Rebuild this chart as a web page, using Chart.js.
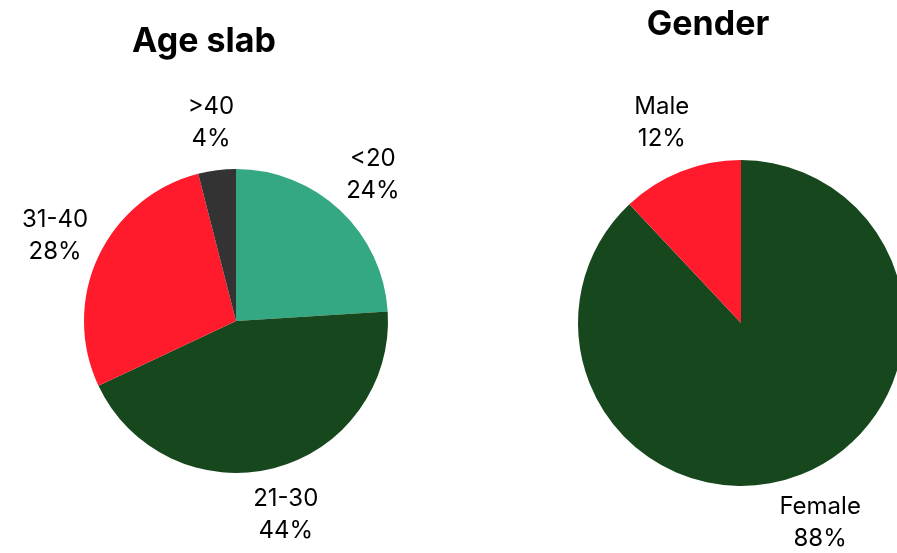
<!DOCTYPE html>
<html>
<head>
<meta charset="utf-8">
<script src="https://cdn.jsdelivr.net/npm/chart.js@4.4.1/dist/chart.umd.min.js"></script>
<style>
  html, body { margin: 0; padding: 0; background: #fff; overflow: hidden; width: 897px; height: 553px; }
  .box { position: absolute; top: 0; height: 553px; }
  #ageBox { left: 0; width: 472px; }
  #genderBox { left: 472px; width: 600px; }
</style>
</head>
<body>
<div class="box" id="ageBox"><canvas id="ageChart" width="472" height="553"></canvas></div>
<div class="box" id="genderBox"><canvas id="genderChart" width="600" height="553"></canvas></div>
<script>
// Age slab
const ageLabels = ['<20', '21-30', '31-40', '>40'];
const ageValues = [24, 44, 28, 4];
const ageColors = ['#34A783', '#17471D', '#FF1A2C', '#333333'];

// Gender
const genderLabels = ['Female', 'Male'];
const genderValues = [88, 12];
const genderColors = ['#17471D', '#FF1A2C'];

const FONT = 'Inter, "Open Sans", sans-serif';

// draws "label\nvalue%" outside each slice, plus the chart title
const outsideLabels = {
    id: 'outsideLabels',
    afterDraw(chart, args, opts) {
        const ctx = chart.ctx;
        const meta = chart.getDatasetMeta(0);
        const values = chart.data.datasets[0].data;
        ctx.save();
        ctx.fillStyle = '#000';
        ctx.textAlign = 'center';
        ctx.textBaseline = 'middle';
        ctx.font = '400 24px ' + FONT;
        meta.data.forEach(function(arc, i) {
            const mid = (arc.startAngle + arc.endAngle) / 2;
            const dist = arc.outerRadius + opts.offset;
            const x = arc.x + Math.cos(mid) * dist;
            const y = arc.y + Math.sin(mid) * dist;
            ctx.fillText(chart.data.labels[i], x, y - 16);
            ctx.fillText(values[i] + '%', x, y + 16);
        });
        ctx.font = '700 34px ' + FONT;
        ctx.fillText(opts.title, opts.titleX, opts.titleY);
        ctx.restore();
    }
};

function createPie(canvasId, labels, values, colors, padding, labelOpts) {
    const ctx = document.getElementById(canvasId).getContext('2d');
    return new Chart(ctx, {
        type: 'pie',
        data: {
            labels: labels,
            datasets: [{
                data: values,
                backgroundColor: colors,
                borderWidth: 0
            }]
        },
        options: {
            responsive: false,
            animation: false,
            layout: { padding: padding },
            plugins: {
                legend: { display: false },
                tooltip: { enabled: false },
                outsideLabels: labelOpts
            }
        },
        plugins: [outsideLabels]
    });
}

createPie('ageChart', ageLabels, ageValues, ageColors,
    { left: 84, right: 84, top: 169, bottom: 80 },
    { offset: 48, title: 'Age slab', titleX: 204, titleY: 42 });

createPie('genderChart', genderLabels, genderValues, genderColors,
    { left: 106, right: 168, top: 160, bottom: 67 },
    { offset: 52, title: 'Gender', titleX: 236, titleY: 25 });
</script>
</body>
</html>
